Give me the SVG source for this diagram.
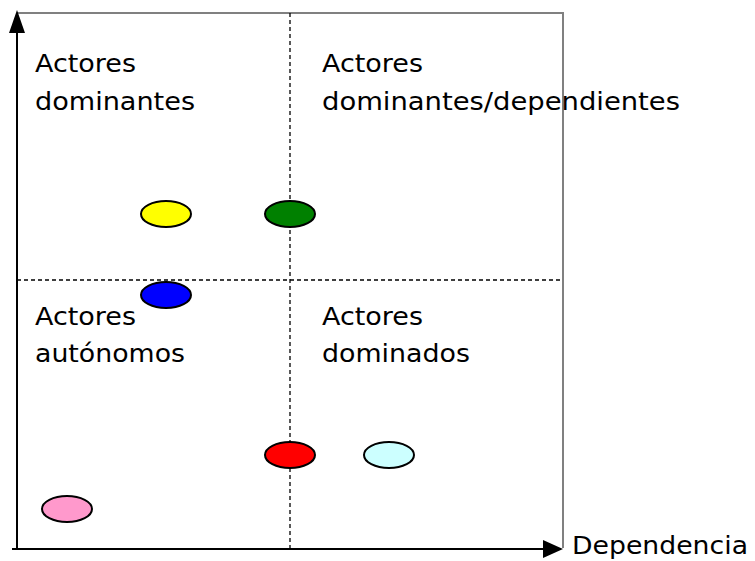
<svg xmlns="http://www.w3.org/2000/svg" width="755" height="561" viewBox="0 0 755 561">
<defs>
<style>
.lbl{font-family:"DejaVu Sans",Verdana,sans-serif;font-size:24px;fill:#000}
.frame{stroke:#808080;stroke-width:2;fill:none}
.dash{stroke:#000;stroke-width:1.3;stroke-dasharray:4,3;fill:none}
.dot{stroke:#000;stroke-width:2}
</style>
</defs>
<rect width="755" height="561" fill="#fff"/>
<g id="connectors">
<path class="frame" d="M17,13 H563 V548"/>
<path class="dash" d="M290,13 V548"/>
<path class="dash" d="M17,280 H563"/>
<path d="M17,549 V20" stroke="#000" stroke-width="2"/>
<path d="M9,33 L17,10 L25,33 Z" fill="#000"/>
<path d="M12,549 H545" stroke="#000" stroke-width="2"/>
<path d="M543,540 L563,549 L543,558 Z" fill="#000"/>
</g>
<g id="q1"><text class="lbl" x="35" y="72" textLength="101" lengthAdjust="spacingAndGlyphs">Actores</text><text class="lbl" x="35" y="110" textLength="160" lengthAdjust="spacingAndGlyphs">dominantes</text></g>
<g id="q2"><text class="lbl" x="322" y="72" textLength="101" lengthAdjust="spacingAndGlyphs">Actores</text><text class="lbl" x="322" y="110" textLength="358" lengthAdjust="spacingAndGlyphs">dominantes/dependientes</text></g>
<g id="q3"><text class="lbl" x="35" y="325" textLength="101" lengthAdjust="spacingAndGlyphs">Actores</text><text class="lbl" x="35" y="362" textLength="150" lengthAdjust="spacingAndGlyphs">autónomos</text></g>
<g id="q4"><text class="lbl" x="322" y="325" textLength="101" lengthAdjust="spacingAndGlyphs">Actores</text><text class="lbl" x="322" y="362" textLength="148" lengthAdjust="spacingAndGlyphs">dominados</text></g>
<g id="xlabel"><text class="lbl" x="572" y="554" style="font-size:25px" textLength="176" lengthAdjust="spacingAndGlyphs">Dependencia</text></g>
<g id="yellow"><ellipse class="dot" cx="166" cy="214" rx="25" ry="13" fill="#ffff00"/></g>
<g id="green"><ellipse class="dot" cx="290" cy="214" rx="25" ry="13" fill="#008000"/></g>
<g id="blue"><ellipse class="dot" cx="166" cy="295" rx="25" ry="13" fill="#0000ff"/></g>
<g id="red"><ellipse class="dot" cx="290" cy="455" rx="25" ry="13" fill="#ff0000"/></g>
<g id="cyan"><ellipse class="dot" cx="389" cy="455" rx="25" ry="13" fill="#ccffff"/></g>
<g id="pink"><ellipse class="dot" cx="67" cy="509" rx="25" ry="13" fill="#ff99cc"/></g>
</svg>
